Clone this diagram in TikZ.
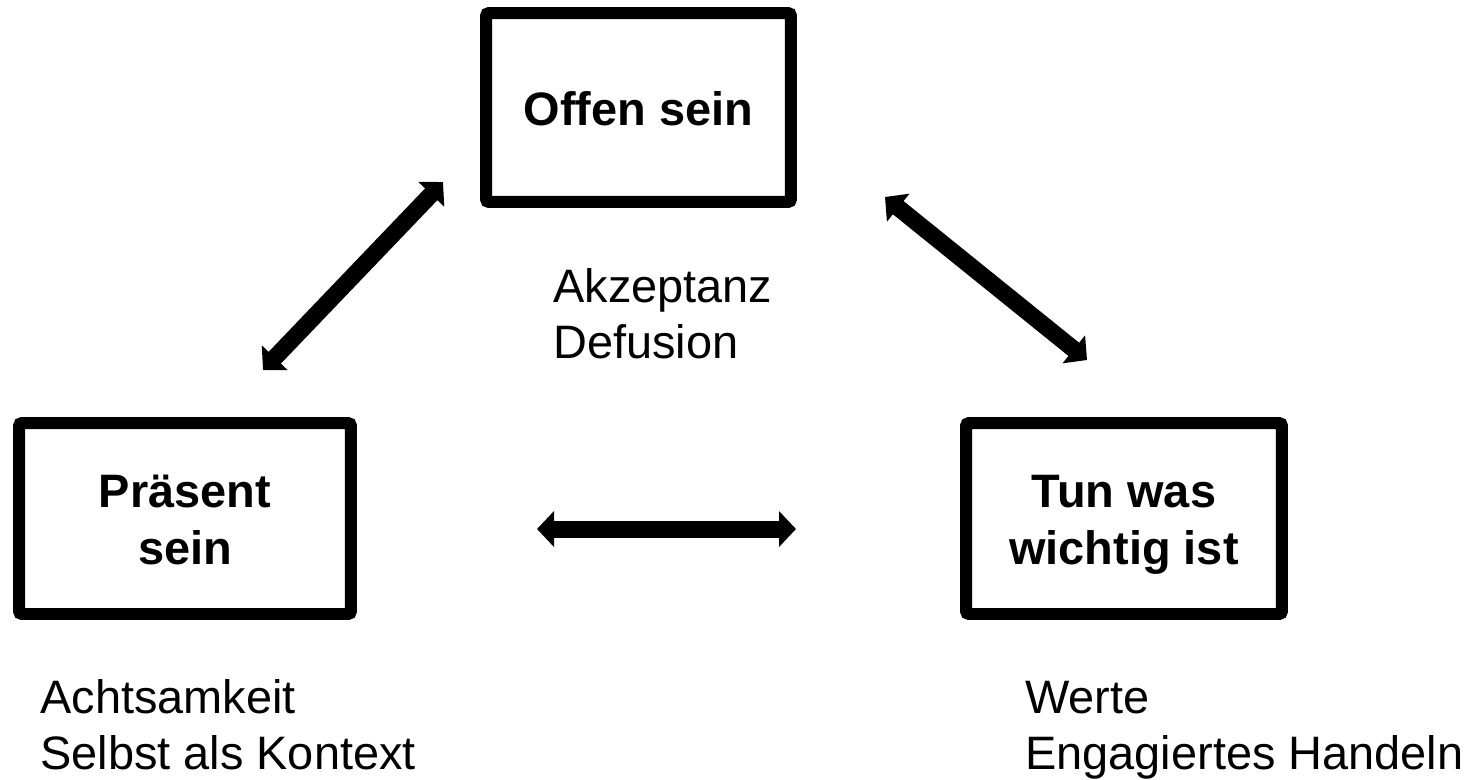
\documentclass[tikz,border=0pt]{standalone}
\usepackage{fontspec}
\setmainfont{Liberation Sans}
\usepackage{tikz}
\usetikzlibrary{arrows.meta, shadows}
\newcommand{\zs}{\rule[-6pt]{0pt}{32.3pt}}

\begin{document}
\begin{tikzpicture}[x=0.02cm, y=-0.02cm,
  box/.style={draw, line width=0.24cm, fill=white, rounded corners=0.06cm, align=center, inner sep=0pt,
    font=\fontsize{26.7}{32.3}\selectfont\bfseries,
    drop shadow={shadow xshift=0.02cm, shadow yshift=-0.06cm, opacity=0.2}},
  lbl/.style={align=left, inner sep=0pt, anchor=base west, font=\fontsize{26.7}{31.8}\selectfont},
  link/.style={{Triangle[length=0.34cm, width=0.7cm]}-{Triangle[length=0.34cm, width=0.7cm]}, line width=0.34cm}]
\useasboundingbox (0,0) rectangle (1473,779);
\node (A) at (638.5,107.5) [box, minimum width=6.1cm, minimum height=3.78cm] {\zs Offen sein};
\node (B) at (185,518.5) [box, minimum width=6.64cm, minimum height=3.82cm] {\zs Präsent\\\zs sein};
\node (C) at (1124,518.5) [box, minimum width=6.32cm, minimum height=3.82cm] {\zs Tun was\\\zs wichtig ist};
\node (D) at (553,358) [lbl] {Akzeptanz\\Defusion};
\node (E) at (40,769) [lbl] {Achtsamkeit\\Selbst als Kontext};
\node (F) at (1025,769) [lbl] {Werte\\Engagiertes Handeln};
\coordinate (AB1) at (443,182);
\coordinate (AB2) at (263,370);
\coordinate (AC1) at (885,197);
\coordinate (AC2) at (1087,360);
\coordinate (BC1) at (537,529);
\coordinate (BC2) at (796,529);
\draw [link] (AB1) -- (AB2);
\draw [link] (AC1) -- (AC2);
\draw [link] (BC1) -- (BC2);
\end{tikzpicture}
\end{document}
